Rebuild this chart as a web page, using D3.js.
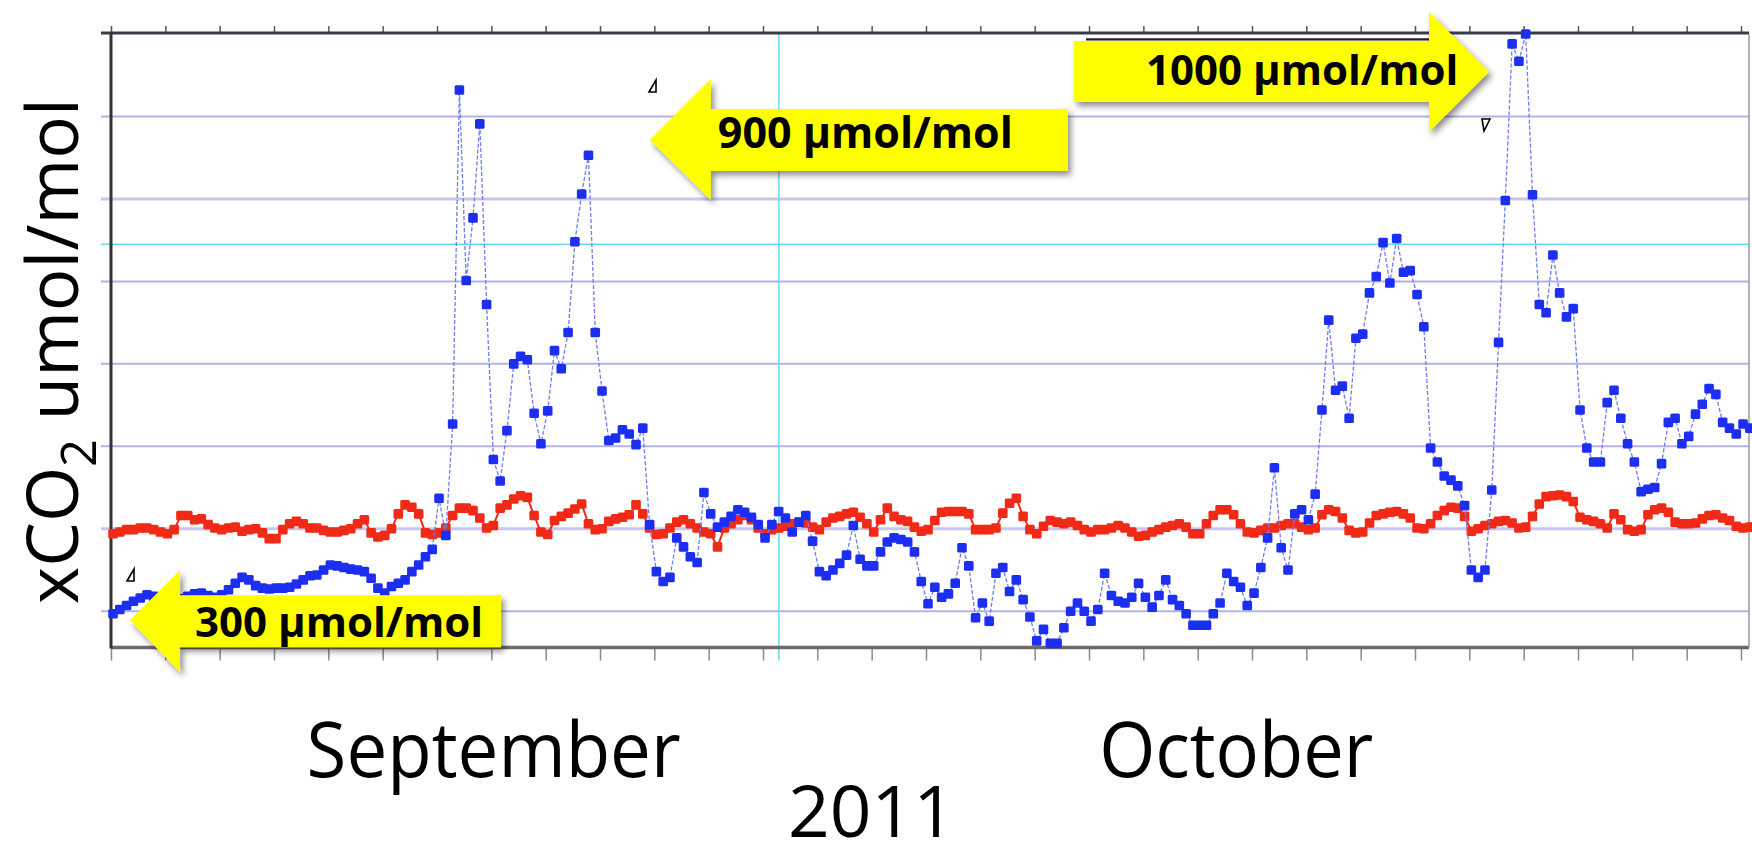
<!DOCTYPE html>
<html><head><meta charset="utf-8">
<script src="https://cdn.jsdelivr.net/npm/d3@7"></script>
<style>html,body{margin:0;padding:0;background:#fff;overflow:hidden}</style>
</head><body>
<svg id="chart" width="1752" height="859"></svg>
<script>
// ---- data (3-hourly samples, xCO2 in umol/mol) ----
const indoorCO2 = [297,302,307,312,316,320,318,316,314,313,
315,318,321,322,319,317,320,326,334,341,
338,331,328,327,328,328,329,333,338,343,
344,350,356,355,353,351,350,348,340,328,
322,330,334,338,348,356,366,375,437,392,
527,932,701,777,891,672,484,458,519,600,
609,605,540,503,543,616,594,638,748,806,
853,638,567,507,510,520,515,502,522,405,
348,336,341,389,378,366,359,444,418,402,
408,415,423,420,414,405,389,405,421,413,
396,408,416,385,348,343,350,358,368,404,
363,355,355,372,384,389,387,384,372,336,
309,329,317,321,334,377,355,292,310,288,
346,353,324,338,314,293,264,278,261,261,
280,300,310,300,288,302,346,319,312,310,
317,334,317,305,319,338,314,307,297,283,
283,283,297,310,346,336,329,307,322,353,
389,474,377,350,418,423,411,442,544,653,
568,573,534,631,636,686,706,747,698,752,
711,713,684,645,498,481,464,459,452,428,
350,341,350,447,626,798,988,967,1000,805,
672,662,732,686,657,667,544,498,481,481,
553,568,534,503,481,445,448,450,479,529,
534,503,512,539,551,570,563,529,522,515,
527,522];
const outdoorCO2 = [394,396,399,399,401,401,399,396,394,399,
416,416,411,412,405,401,399,401,402,397,
399,400,395,388,388,399,406,409,406,401,
401,398,396,396,398,400,406,411,395,390,
392,400,418,429,426,418,395,393,395,401,
416,425,425,422,413,401,404,425,429,436,
440,438,416,396,393,410,415,419,424,430,
406,399,400,409,412,414,417,429,418,401,
393,394,401,408,411,406,401,396,394,378,
401,406,411,416,411,401,394,399,401,403,
406,408,407,402,399,408,413,415,418,420,
414,406,396,411,425,415,411,409,402,397,
399,410,420,421,421,421,418,399,399,399,
401,419,431,437,415,399,394,403,410,408,
406,408,404,399,396,399,399,401,404,401,
396,391,392,396,399,402,404,406,402,394,
394,406,416,423,423,417,406,396,395,398,
401,401,404,406,406,402,399,401,417,423,
421,413,398,395,396,407,416,418,420,421,
418,413,401,400,406,416,422,426,425,415,
397,400,404,406,409,410,407,401,402,415,
430,439,440,441,439,433,414,411,409,406,
401,418,411,399,397,399,417,423,425,420,
408,406,406,407,412,416,417,413,410,403,
401,402];
const sampleHours = indoorCO2.map((_, i) => 0.9 + 3 * i);   // hours since start of window
const dayTickHours = d3.range(0, 31).map(d => d * 24);
const gridValues = [300, 400, 500, 600, 700, 800, 900];
const refValue = 745;       // cyan horizontal reference
const refHour = 295;        // cyan vertical reference
const monthLabels = ["September", "October"];
const monthLabelHours = [169, 497];
const yearLabel = "2011";
const annotationLabels = ["300 µmol/mol", "900 µmol/mol", "1000 µmol/mol"];
const annotationHours = [8.4, 238, 608.7];
const annotationValues = [289, 871.5, 954];

// ---- layout ----
const svg = d3.select("#chart");
const L = 111, R = 1749, T = 34, B = 647.5;
const x = d3.scaleLinear().domain([0, 720]).range([L, 1741]);
const y = d3.scaleLinear().domain([256, 1000]).range([B, T]);

const defs = svg.append("defs");
const sh = defs.append("filter").attr("id", "shadow").attr("x", "-20%").attr("y", "-30%").attr("width", "150%").attr("height", "180%");
sh.append("feDropShadow").attr("dx", 3).attr("dy", 4).attr("stdDeviation", 3).attr("flood-color", "#000").attr("flood-opacity", 0.45);
const soft = defs.append("filter").attr("id", "soft");
soft.append("feGaussianBlur").attr("stdDeviation", 0.6);

// gridlines
svg.append("g").selectAll("line").data(gridValues).join("line")
  .attr("x1", L - 10).attr("x2", R).attr("y1", d => y(d)).attr("y2", d => y(d))
  .attr("stroke", (d) => (d === 800 || d === 400) ? "#c6c6f0" : "#b2b2ea")
  .attr("stroke-width", (d) => (d === 800 || d === 400) ? 3 : 2);

// cyan reference lines
svg.append("line").attr("x1", L - 10).attr("x2", R).attr("y1", y(refValue)).attr("y2", y(refValue))
  .attr("stroke", "#66dde6").attr("stroke-width", 1.5);
svg.append("line").attr("x1", x(refHour)).attr("x2", x(refHour)).attr("y1", T).attr("y2", B + 13)
  .attr("stroke", "#66dde6").attr("stroke-width", 1.5);

// ticks
const topAxis = svg.append("g").attr("transform", `translate(0,${T - 1})`)
  .call(d3.axisTop(x).tickValues(dayTickHours).tickSize(7).tickFormat(""));
topAxis.select(".domain").remove();
topAxis.selectAll("line").attr("stroke", "#555").attr("stroke-width", 1.5);
const botAxis = svg.append("g").attr("transform", `translate(0,${B})`)
  .call(d3.axisBottom(x).tickValues(dayTickHours).tickSize(13).tickFormat(""));
botAxis.select(".domain").remove();
botAxis.selectAll("line").attr("stroke", "#8a8a8a").attr("stroke-width", 1.5);

// frame
svg.append("line").attr("x1", L - 10).attr("x2", R).attr("y1", T - 1).attr("y2", T - 1).attr("stroke", "#3a3a48").attr("stroke-width", 3);
svg.append("line").attr("x1", L).attr("x2", R).attr("y1", B).attr("y2", B).attr("stroke", "#6a6a6a").attr("stroke-width", 3.5);
svg.append("line").attr("x1", L).attr("x2", L).attr("y1", T - 2).attr("y2", B + 1).attr("stroke", "#333").attr("stroke-width", 3);
svg.append("line").attr("x1", R).attr("x2", R).attr("y1", T).attr("y2", B).attr("stroke", "#999").attr("stroke-width", 1.5);

// data
const pts = (vals) => vals.map((v, i) => [sampleHours[i], v]);
const line = d3.line().x(d => x(d[0])).y(d => y(d[1]));
const M = 9.6;
const dataG = svg.append("g").attr("filter", "url(#soft)");
dataG.append("path").datum(pts(outdoorCO2)).attr("d", line)
  .attr("fill", "none").attr("stroke", "#ee2a1a").attr("stroke-width", 2);
dataG.append("g").selectAll("rect").data(pts(outdoorCO2)).join("rect")
  .attr("x", d => x(d[0]) - M / 2).attr("y", d => y(d[1]) - M / 2).attr("width", M).attr("height", M)
  .attr("rx", 1.5).attr("fill", "#f02a14");
dataG.append("path").datum(pts(indoorCO2)).attr("d", line)
  .attr("fill", "none").attr("stroke", "#6f7cf2").attr("stroke-width", 1.3).attr("stroke-dasharray", "4,2");
dataG.append("g").selectAll("rect").data(pts(indoorCO2)).join("rect")
  .attr("x", d => x(d[0]) - M / 2).attr("y", d => y(d[1]) - M / 2).attr("width", M).attr("height", M)
  .attr("rx", 1.5).attr("fill", "#1f2ef2");

// annotation arrows
const arrowGeom = [
  {dir: -1, head: 50, headTop: 50, headBot: 52, bodyTop: 25, bodyBot: 27, len: 371, tx: 65, ty: 17, fs: 42},
  {dir: -1, head: 61, headTop: 61, headBot: 60, bodyTop: 31, bodyBot: 31, len: 418, tx: 68, ty: 8, fs: 43},
  {dir: 1, head: 60, headTop: 60, headBot: 60, bodyTop: 31, bodyBot: 30, len: 415, tx: -343, ty: 13, fs: 42}
];
annotationLabels.forEach((lab, k) => {
  const g = arrowGeom[k];
  const tx = x(annotationHours[k]), ty = y(annotationValues[k]);
  const s = -g.dir; // body extends opposite to pointing direction
  const poly = [[0, 0], [s * g.head, -g.headTop], [s * g.head, -g.bodyTop], [s * g.len, -g.bodyTop],
    [s * g.len, g.bodyBot], [s * g.head, g.bodyBot], [s * g.head, g.headBot]];
  const grp = svg.append("g").attr("transform", `translate(${tx},${ty})`);
  if (k === 2) {
    grp.append("line").attr("x1", s * g.len + 12).attr("x2", s * g.head).attr("y1", -g.bodyTop - 1.5).attr("y2", -g.bodyTop - 1.5)
      .attr("stroke", "#222").attr("stroke-width", 2.2);
  }
  grp.append("polygon").attr("points", poly.map(p => p.join(",")).join(" "))
    .attr("fill", "#ffff00").attr("filter", "url(#shadow)");
  grp.append("text").attr("x", g.tx).attr("y", g.ty)
    .attr("font-family", "'Open Sans', sans-serif").attr("font-weight", 700).attr("font-size", g.fs)
    .attr("fill", "#000").text(lab);
});

// small handle glyphs near arrows
const handles = [[131, 575, 1], [653, 86, 1], [1486, 125, -1]];
handles.forEach(([hx, hy, o]) => {
  const p = o > 0 ? `M${hx - 4},${hy + 6} L${hx + 3},${hy - 6} L${hx + 3},${hy + 6} Z`
                  : `M${hx - 4},${hy - 6} L${hx + 4},${hy - 6} L${hx - 2},${hy + 6} Z`;
  svg.append("path").attr("d", p).attr("fill", "none").attr("stroke", "#000").attr("stroke-width", 1.6);
});

// axis labels
const yl = svg.append("text").attr("transform", "translate(78,604) rotate(-90)")
  .attr("font-family", "'Open Sans', sans-serif").attr("font-size", 71).attr("fill", "#000");
yl.append("tspan").text("xCO");
yl.append("tspan").attr("dy", 18).attr("font-size", 49).text("2");
yl.append("tspan").attr("dy", -18).text(" umol/mol");

const monthWidths = [374, 274];
svg.append("g").selectAll("text").data(monthLabels).join("text")
  .attr("x", (d, i) => x(monthLabelHours[i]) - monthWidths[i] / 2).attr("y", 777)
  .attr("font-family", "'Open Sans', sans-serif").attr("font-size", 77).attr("fill", "#000")
  .attr("textLength", (d, i) => monthWidths[i]).attr("lengthAdjust", "spacingAndGlyphs")
  .text(d => d);
svg.append("text").attr("x", 788).attr("y", 837)
  .attr("font-family", "'Open Sans', sans-serif").attr("font-size", 72).attr("fill", "#000")
  .attr("textLength", 167).attr("lengthAdjust", "spacingAndGlyphs").text(yearLabel);
</script>
</body></html>
